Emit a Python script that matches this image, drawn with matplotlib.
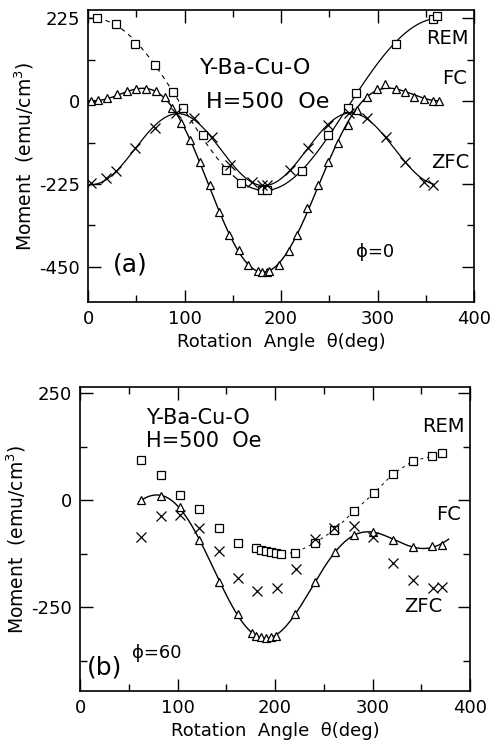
import numpy as np
import matplotlib
matplotlib.use("Agg")
import matplotlib.pyplot as plt

plt.rcParams['font.family'] = ['DejaVu Sans']

# ---------------- Panel (a) data, phi = 0 ----------------
rem_a_theta = [9, 29, 49, 69, 88, 98, 119, 143, 159, 180, 185, 222, 249, 269, 278, 319, 357, 362]
rem_a_val = [224, 210, 156, 98, 25, -18, -92, -187, -223, -241, -241, -190, -92, -20, 23, 154, 222, 231]

fc_a_theta = [3, 10, 20, 30, 40, 50, 60, 70, 80, 87, 96, 106, 116, 126, 136, 146, 156, 166, 176,
              180, 185, 188, 198, 208, 217, 227, 238, 249, 259, 269, 279, 289, 299, 308, 319,
              329, 338, 348, 358, 364]
fc_a_val = [0, 2, 8, 18, 28, 32, 32, 26, 12, -20, -60, -106, -164, -229, -300, -363, -404, -444, -461,
            -463, -463, -461, -444, -408, -363, -291, -229, -164, -115, -65, -24, 12, 33, 45, 33,
            25, 12, 5, 0, 0]

zfc_a_theta = [3, 19, 29, 49, 69, 91, 110, 129, 147, 170, 180, 185, 209, 228, 249, 270, 289, 309, 328, 348, 357]
zfc_a_val = [-223, -208, -190, -128, -74, -33, -47, -97, -173, -219, -228, -228, -187, -128, -65, -33,
             -47, -97, -164, -219, -228]

# ---------------- Panel (b) data, phi = 60 ----------------
rem_b_theta = [63, 83, 103, 122, 143, 162, 181, 186, 191, 196, 201, 206, 221, 241, 261, 281, 302, 321, 342, 361, 371]
rem_b_val = [94, 59, 12, -22, -66, -100, -113, -116, -119, -121, -123, -125, -123, -100, -70, -26, 17, 61, 92, 102, 111]

fc_b_theta = [63, 83, 103, 122, 143, 162, 176, 181, 186, 191, 196, 201, 221, 241, 262, 281, 301, 321, 342, 361, 371]
fc_b_val = [0, 9, -16, -94, -191, -266, -311, -318, -320, -322, -320, -318, -266, -191, -121, -82, -74, -94, -109, -108, -104]

zfc_b_theta = [63, 83, 103, 122, 143, 162, 182, 202, 222, 241, 261, 281, 301, 321, 342, 362, 371]
zfc_b_val = [-86, -37, -35, -66, -119, -181, -212, -205, -162, -90, -66, -60, -86, -146, -186, -205, -203]

xticks = [0, 100, 200, 300, 400]
yticks_a = [225, 0, -225, -450]
yticks_b = [250, 0, -250]


def fourier_fit(t, y, nh, tgrid):
    t = np.radians(np.asarray(t, float))
    tg = np.radians(np.asarray(tgrid, float))
    cols = [np.ones_like(t)]
    colsg = [np.ones_like(tg)]
    for k in range(1, nh + 1):
        cols += [np.cos(k * t), np.sin(k * t)]
        colsg += [np.cos(k * tg), np.sin(k * tg)]
    A = np.column_stack(cols)
    c, *_ = np.linalg.lstsq(A, np.asarray(y, float), rcond=None)
    return np.column_stack(colsg) @ c


fig = plt.figure(figsize=(4.93, 7.5), dpi=100)
W, H = 493, 750
ax1 = fig.add_axes([88 / W, 1 - 302 / H, (474 - 88) / W, (302 - 10) / H])
ax2 = fig.add_axes([80 / W, 1 - 691 / H, (470 - 80) / W, (691 - 387) / H])

mk = dict(linestyle='none', color='black', markerfacecolor='white', markeredgewidth=0.9)

# panel a curves
g = np.linspace(0, 362, 400)
rem_fit = fourier_fit(rem_a_theta, rem_a_val, 2, g)
m = g <= 150
ax1.plot(g[m], rem_fit[m], color='black', lw=0.8, ls=(0, (4, 4)))
ax1.plot(g[~m], rem_fit[~m], color='black', lw=0.9)
g2 = np.linspace(0, 365, 400)
ax1.plot(g2, fourier_fit(fc_a_theta, fc_a_val, 3, g2), color='black', lw=1.0)
g3 = np.linspace(3, 358, 400)
ax1.plot(g3, fourier_fit(zfc_a_theta, zfc_a_val, 3, g3), color='black', lw=0.9)

ax1.plot(rem_a_theta, rem_a_val, marker='s', markersize=6, **mk)
ax1.plot(fc_a_theta, fc_a_val, marker='^', markersize=6, **mk)
ax1.plot(zfc_a_theta, zfc_a_val, marker='x', markersize=7, **mk)

# panel b curves
gb = np.linspace(60, 378, 400)
ax2.plot(gb, fourier_fit(fc_b_theta, fc_b_val, 3, gb), color='black', lw=1.0)
mrem = np.array(rem_b_theta) >= 180
ax2.plot(np.array(rem_b_theta)[mrem], np.array(rem_b_val)[mrem], color='black', lw=0.7, ls=(0, (3, 4)))
ax2.plot(rem_b_theta, rem_b_val, marker='s', markersize=6, **mk)
ax2.plot(fc_b_theta, fc_b_val, marker='^', markersize=6, **mk)
ax2.plot(zfc_b_theta, zfc_b_val, marker='x', markersize=7, **mk)

for ax, yt, ylim, ystep in [(ax1, yticks_a, (-545, 247), 112.5), (ax2, yticks_b, (-446, 264), 125)]:
    ax.set_xlim(0, 400)
    ax.set_xticks(xticks)
    ax.set_xticklabels([str(v) for v in xticks])
    ax.set_yticks(yt)
    ax.set_yticklabels([str(v) for v in yt])
    ax.set_xticks(np.arange(50, 400, 100), minor=True)
    ax.set_yticks(np.arange(min(yt) - 2 * ystep, max(yt) + ystep, ystep), minor=True)
    ax.set_ylim(*ylim)
    ax.tick_params(which='both', direction='in', top=True, right=True, labelsize=13, width=1.0)
    ax.tick_params(which='major', length=9, pad=6)
    ax.tick_params(which='minor', length=5)
    for s in ax.spines.values():
        s.set_linewidth(1.2)
    ax.set_ylabel('Moment  (emu/cm$^3$)', fontsize=13.5, labelpad=2)
    ax.set_xlabel('Rotation  Angle  θ(deg)', fontsize=13, labelpad=3)


def ftext(x, y, s, size=13, ha='center'):
    fig.text(x / W, 1 - y / H, s, fontsize=size, ha=ha, va='center')


ftext(447, 38, 'REM', 14)
ftext(455, 78, 'FC', 14)
ftext(450, 162, 'ZFC', 14)
ftext(256, 68, 'Y-Ba-Cu-O', 16)
ftext(268, 102, 'H=500  Oe', 16)
ftext(130, 265, '(a)', 18)
ftext(375, 252, 'ϕ=0', 13)

ftext(146, 418, 'Y-Ba-Cu-O', 15, ha='left')
ftext(146, 441, 'H=500  Oe', 15, ha='left')
ftext(443, 427, 'REM', 14)
ftext(449, 515, 'FC', 14)
ftext(423, 607, 'ZFC', 14)
ftext(105, 667, '(b)', 18)
ftext(157, 653, 'ϕ=60', 13)

fig.savefig('out.png', dpi=100)
